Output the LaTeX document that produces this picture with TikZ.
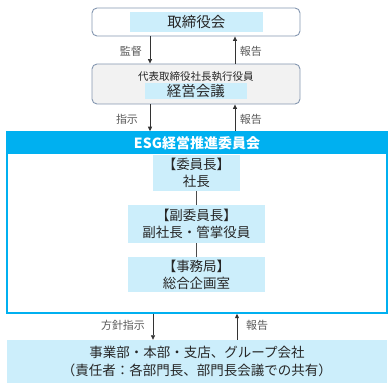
\documentclass[tikz,border=0pt]{standalone}
\usepackage{fontspec}
\setmainfont{Noto Sans CJK JP}
\usetikzlibrary{arrows.meta}
\definecolor{lblue}{HTML}{CCEEFB}
\definecolor{cyanh}{HTML}{00B0F0}
\definecolor{gborder}{HTML}{8497B0}
\definecolor{gfill}{HTML}{F2F2F2}
\definecolor{txt}{HTML}{262626}
\definecolor{lbl}{HTML}{595959}
\tikzset{
  outerbox/.style={draw=gborder, line width=0.9pt, rounded corners=5pt, inner sep=0pt},
  fillbox/.style={fill=lblue, inner sep=0pt, align=center, text=txt},
  arr/.style={-{Triangle[length=4.5pt,width=4pt]}, line width=0.7pt, draw=black!80},
  lab/.style={text=lbl, font=\fontsize{11}{13}\selectfont, inner sep=0pt},
  conn/.style={line width=0.7pt, draw=black!70}
}
\begin{document}
\begin{tikzpicture}[x=1pt,y=-1pt]
\useasboundingbox (0,0) rectangle (392,390);
% top box
\node[outerbox, fill=white, minimum width=208pt, minimum height=28pt] (board) at (196,22) {};
\node[fillbox, minimum width=133pt, minimum height=20pt, font=\fontsize{14.5}{16}\selectfont] (boardin) at (196.5,22) {取締役会};
% management box
\node[outerbox, fill=gfill, minimum width=208pt, minimum height=40pt] (mgmt) at (196,84) {};
\node[text=txt, inner sep=0pt, font=\fontsize{10.5}{12}\selectfont] (mgmtsub) at (196,76.5) {代表取締役社長執行役員};
\node[fillbox, minimum width=102pt, minimum height=16pt, font=\fontsize{14.5}{16}\selectfont] (mgmtin) at (196,91) {経営会議};
% ESG box
\node[draw=cyanh, line width=1.5pt, minimum width=380pt, minimum height=181pt, inner sep=0pt] (esg) at (197,222.5) {};
\node[fill=cyanh, minimum width=380pt, minimum height=22pt, inner sep=0pt, text=white, font=\bfseries\fontsize{14}{16}\selectfont] (esghead) at (197,143) {ESG経営推進委員会};
\node[fillbox, minimum width=87pt, minimum height=36pt, font=\fontsize{13.5}{17}\selectfont] (chair) at (196.5,173) {【委員長】\\社長};
\node[fillbox, minimum width=137pt, minimum height=38pt, font=\fontsize{13.5}{17.5}\selectfont] (vice) at (196.5,224) {【副委員長】\\副社長・管掌役員};
\node[fillbox, minimum width=137pt, minimum height=35pt, font=\fontsize{13.5}{17}\selectfont] (office) at (196.5,274.5) {【事務局】\\総合企画室};
\draw[conn] (chair.south) -- (vice.north);
\draw[conn] (vice.south) -- (office.north);
% bottom box
\node[fillbox, minimum width=380pt, minimum height=43pt, font=\fontsize{13.5}{18}\selectfont] (div) at (197,361.5) {事業部・本部・支店、グループ会社\\（責任者：各部門長、部門長会議での共有）};
% arrow x positions
\coordinate (xa) at (150,0);
\coordinate (xb) at (235,0);
\coordinate (xc) at (153,0);
\coordinate (xd) at (237,0);
\draw[arr] (board.south -| xa) -- (mgmt.north -| xa);
\draw[arr] (mgmt.north -| xb) -- (board.south -| xb);
\draw[arr] (mgmt.south -| xa) -- (esg.north -| xa);
\draw[arr] (esg.north -| xb) -- (mgmt.south -| xb);
\draw[arr] (esg.south -| xc) -- (div.north -| xc);
\draw[arr] (div.north -| xd) -- (esg.south -| xd);
% labels
\node[lab] (l1) at (131,51) {監督};
\node[lab] (l2) at (251,51) {報告};
\node[lab] (l3) at (127,119) {指示};
\node[lab] (l4) at (251,119) {報告};
\node[lab] (l5) at (123,325) {方針指示};
\node[lab] (l6) at (257,325) {報告};
\end{tikzpicture}
\end{document}
